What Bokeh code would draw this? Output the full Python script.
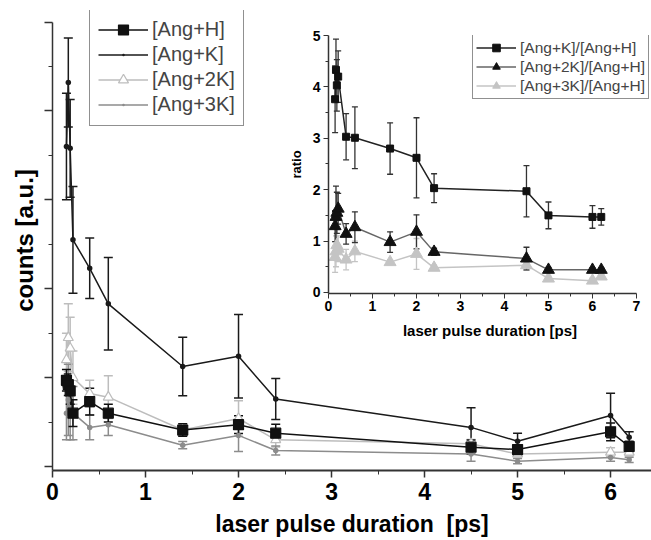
from bokeh.plotting import figure
from bokeh.models import (Range1d, FixedTicker, Legend, LegendItem, Whisker, TeeHead,
                          ColumnDataSource)
from bokeh.layouts import column
from bokeh.embed import file_html
from bokeh.resources import INLINE

# ---------------- data (main plot) ----------------
pulse = [0.15, 0.17, 0.19, 0.22, 0.4, 0.6, 1.4, 2.0, 2.4, 4.5, 5.0, 6.0, 6.2]

ang_h = [0.97, 0.92, 0.85, 0.60, 0.73, 0.60, 0.41, 0.47, 0.375, 0.217, 0.19, 0.39, 0.225]
ang_h_err = [0.12, 0.12, 0.15, 0.15, 0.15, 0.10, 0.07, 0.10, 0.10, 0.08, 0.05, 0.10, 0.06]

ang_k = [3.60, 4.32, 3.58, 2.55, 2.23, 1.83, 1.125, 1.24, 0.76, 0.44, 0.285, 0.574, 0.33]
ang_k_err = [0.60, 0.50, 0.55, 0.60, 0.34, 0.52, 0.33, 0.47, 0.23, 0.22, 0.09, 0.25, 0.06]

ang_2k = [1.20, 1.45, 1.33, 1.00, 0.82, 0.78, 0.41, 0.54, 0.30, 0.255, 0.14, 0.16, 0.16]
ang_2k_err = [0.30, 0.38, 0.35, 0.30, 0.15, 0.24, 0.07, 0.20, 0.08, 0.05, 0.03, 0.05, 0.04]

ang_3k = [0.60, 0.75, 0.65, 0.60, 0.44, 0.47, 0.24, 0.35, 0.18, 0.14, 0.06, 0.10, 0.075]
ang_3k_err = [0.30, 0.40, 0.35, 0.30, 0.14, 0.12, 0.04, 0.18, 0.05, 0.08, 0.03, 0.04, 0.03]

# ---------------- data (inset: ratios) ----------------
ratio_k = [3.76, 4.33, 4.03, 4.20, 3.03, 3.01, 2.80, 2.62, 2.03, 1.97, 1.50, 1.47, 1.47]
ratio_k_err = [0.65, 0.60, 0.50, 0.50, 0.45, 0.60, 0.50, 0.78, 0.28, 0.50, 0.26, 0.22, 0.16]

ratio_2k = [1.29, 1.47, 1.55, 1.63, 1.14, 1.27, 0.98, 1.18, 0.79, 0.66, 0.44, 0.44, 0.44]
ratio_2k_err = [0.30, 0.60, 0.40, 0.30, 0.20, 0.30, 0.20, 0.33, 0.07, 0.22, 0.05, 0.04, 0.04]

ratio_3k = [0.69, 0.80, 0.92, 0.85, 0.64, 0.80, 0.59, 0.75, 0.48, 0.53, 0.27, 0.23, 0.31]
ratio_3k_err = [0.30, 0.30, 0.30, 0.25, 0.20, 0.20, 0.05, 0.30, 0.05, 0.10, 0.05, 0.05, 0.04]

main_ticks_x = [0, 1, 2, 3, 4, 5, 6]
main_ticks_y = [0, 1, 2, 3, 4, 5]
inset_ticks_x = [0, 1, 2, 3, 4, 5, 6, 7]
inset_ticks_y = [0, 1, 2, 3, 4, 5]

FONT = "Liberation Sans"
AXIS_COL = "#333333"


def err_source(x, y, e):
    return ColumnDataSource(dict(x=x, y=y,
                                 upper=[a + b for a, b in zip(y, e)],
                                 lower=[a - b for a, b in zip(y, e)]))


def add_whisker(fig, src, color, width, cap):
    fig.add_layout(Whisker(source=src, base="x", upper="upper", lower="lower",
                           line_color=color, line_width=width,
                           upper_head=TeeHead(size=cap, line_color=color, line_width=width),
                           lower_head=TeeHead(size=cap, line_color=color, line_width=width)))


def style_axes(fig, xt, yt, tick_size, tick_out, minor_out):
    fig.xaxis.ticker = FixedTicker(ticks=xt, minor_ticks=[v + 0.5 for v in xt])
    fig.yaxis.ticker = FixedTicker(ticks=yt, minor_ticks=[v + 0.5 for v in yt])
    for ax in (fig.xaxis, fig.yaxis):
        ax.axis_line_color = AXIS_COL
        ax.major_tick_line_color = AXIS_COL
        ax.minor_tick_line_color = AXIS_COL
        ax.major_tick_in = 0
        ax.major_tick_out = tick_out
        ax.minor_tick_in = 0
        ax.minor_tick_out = minor_out
        ax.major_label_text_font = FONT
        ax.major_label_text_font_style = "bold"
        ax.major_label_text_font_size = tick_size
        ax.major_label_text_color = "black"
        ax.axis_label_text_font = FONT
        ax.axis_label_text_font_style = "bold"
        ax.axis_label_text_color = "black"


# ---------------- main figure ----------------
p = figure(width=666, height=540, output_backend="svg", toolbar_location=None,
           x_range=Range1d(0, 6.44), y_range=Range1d(-0.045, 5.13),
           min_border_left=52, min_border_right=0, min_border_top=10, min_border_bottom=70)
p.outline_line_color = None
p.xgrid.visible = False
p.ygrid.visible = False
style_axes(p, main_ticks_x, main_ticks_y, "23px", 8, 4)
p.yaxis.bounds = (-0.045, 5.0)
p.xaxis.axis_line_width = 2
p.yaxis.axis_line_width = 1.5
p.xaxis.major_tick_line_width = 1.5
p.yaxis.major_tick_line_width = 1.5
p.xaxis.major_tick_out = 7
p.xaxis.major_label_standoff = 5
p.yaxis.major_label_overrides = {t: "" for t in main_ticks_y}
p.yaxis.major_label_standoff = 0
p.xaxis.axis_label = "laser pulse duration\u00a0 [ps]"
p.yaxis.axis_label = "counts [a.u.]"
p.xaxis.axis_label_text_font_size = "23px"
p.yaxis.axis_label_text_font_size = "24px"
p.xaxis.axis_label_standoff = 8
p.yaxis.axis_label_standoff = 7

C_H = "#111111"
C_K = "#1a1a1a"
C_2K = "#bdbdbd"
C_3K = "#8c8c8c"

series = [
    ("[Ang+2K]", ang_2k, ang_2k_err, C_2K, "triangle", 10, "white"),
    ("[Ang+3K]", ang_3k, ang_3k_err, C_3K, "dot", 22, C_3K),
    ("[Ang+H]", ang_h, ang_h_err, C_H, "square", 10, C_H),
    ("[Ang+K]", ang_k, ang_k_err, C_K, "dot", 22, C_K),
]
items = {}
for label, y, e, col, mk, sz, fill in series:
    src = err_source(pulse, y, e)
    add_whisker(p, src, col, 1.5, 9)
    lr = p.line("x", "y", source=src, line_color=col, line_width=1.5)
    sr = p.scatter("x", "y", source=src, marker=mk, size=sz, line_color=col,
                   fill_color=fill, line_width=1.2)
    items[label] = [lr, sr]

legend_main = Legend(items=[LegendItem(label=k, renderers=items[k])
                            for k in ["[Ang+H]", "[Ang+K]", "[Ang+2K]", "[Ang+3K]"]],
                     location=(37, 344))
legend_main.label_text_font = FONT
legend_main.label_text_font_size = "20px"
legend_main.label_height = 25
legend_main.glyph_height = 25
legend_main.glyph_width = 50
legend_main.label_standoff = 4
legend_main.spacing = 0
legend_main.padding = 8
legend_main.margin = 0
legend_main.border_line_color = "#222222"
legend_main.border_line_width = 1.5
legend_main.background_fill_alpha = 1
p.add_layout(legend_main)

# ---------------- inset figure ----------------
q = figure(width=375, height=345, output_backend="svg", toolbar_location=None,
           x_range=Range1d(0, 7.342), y_range=Range1d(-0.02, 5.0),
           min_border_left=39, min_border_right=0, min_border_top=35, min_border_bottom=52)
q.outline_line_color = None
q.xgrid.visible = False
q.ygrid.visible = False
q.background_fill_alpha = 0
q.border_fill_alpha = 0
style_axes(q, inset_ticks_x, inset_ticks_y, "14px", 5, 3)
q.xaxis.bounds = (0, 7)
q.xaxis.axis_line_width = 1.5
q.yaxis.axis_line_width = 1.5
q.xaxis.major_label_standoff = 2
q.yaxis.major_label_standoff = 3
q.xaxis.axis_label = "laser pulse duration [ps]"
q.yaxis.axis_label = "ratio"
q.xaxis.axis_label_text_font_size = "15px"
q.yaxis.axis_label_text_font_size = "13px"
q.xaxis.axis_label_standoff = 8
q.yaxis.axis_label_standoff = 6

inset_series = [
    ("[Ang+3K]/[Ang+H]", ratio_3k, ratio_3k_err, "#c4c4c4", "#c4c4c4", "#c4c4c4", "triangle", 12),
    ("[Ang+2K]/[Ang+H]", ratio_2k, ratio_2k_err, "#666666", "#111111", "#333333", "triangle", 12),
    ("[Ang+K]/[Ang+H]", ratio_k, ratio_k_err, "#222222", "#111111", "#333333", "square", 7),
]
inset_items = {}
for label, y, e, lcol, mcol, ecol, mk, sz in inset_series:
    src = err_source(pulse, y, e)
    add_whisker(q, src, ecol, 1.3, 6)
    lr = q.line("x", "y", source=src, line_color=lcol, line_width=1.5)
    sr = q.scatter("x", "y", source=src, marker=mk, size=sz, line_color=mcol, fill_color=mcol)
    inset_items[label] = [lr, sr]

legend_in = Legend(items=[LegendItem(label=k, renderers=inset_items[k])
                          for k in ["[Ang+K]/[Ang+H]", "[Ang+2K]/[Ang+H]", "[Ang+3K]/[Ang+H]"]],
                   location=(144, 194))
legend_in.label_text_font = FONT
legend_in.label_text_font_size = "15.5px"
legend_in.label_height = 19
legend_in.glyph_height = 19
legend_in.glyph_width = 40
legend_in.label_standoff = 4
legend_in.spacing = 0
legend_in.padding = 3
legend_in.margin = 0
legend_in.border_line_color = "#222222"
legend_in.border_line_width = 1.2
q.add_layout(legend_in)

q.margin = (-540, 0, 0, 276)

layout = column(p, q, width=651, height=540, styles={"overflow": "hidden"})
open("out.html", "w").write(file_html(layout, INLINE))
